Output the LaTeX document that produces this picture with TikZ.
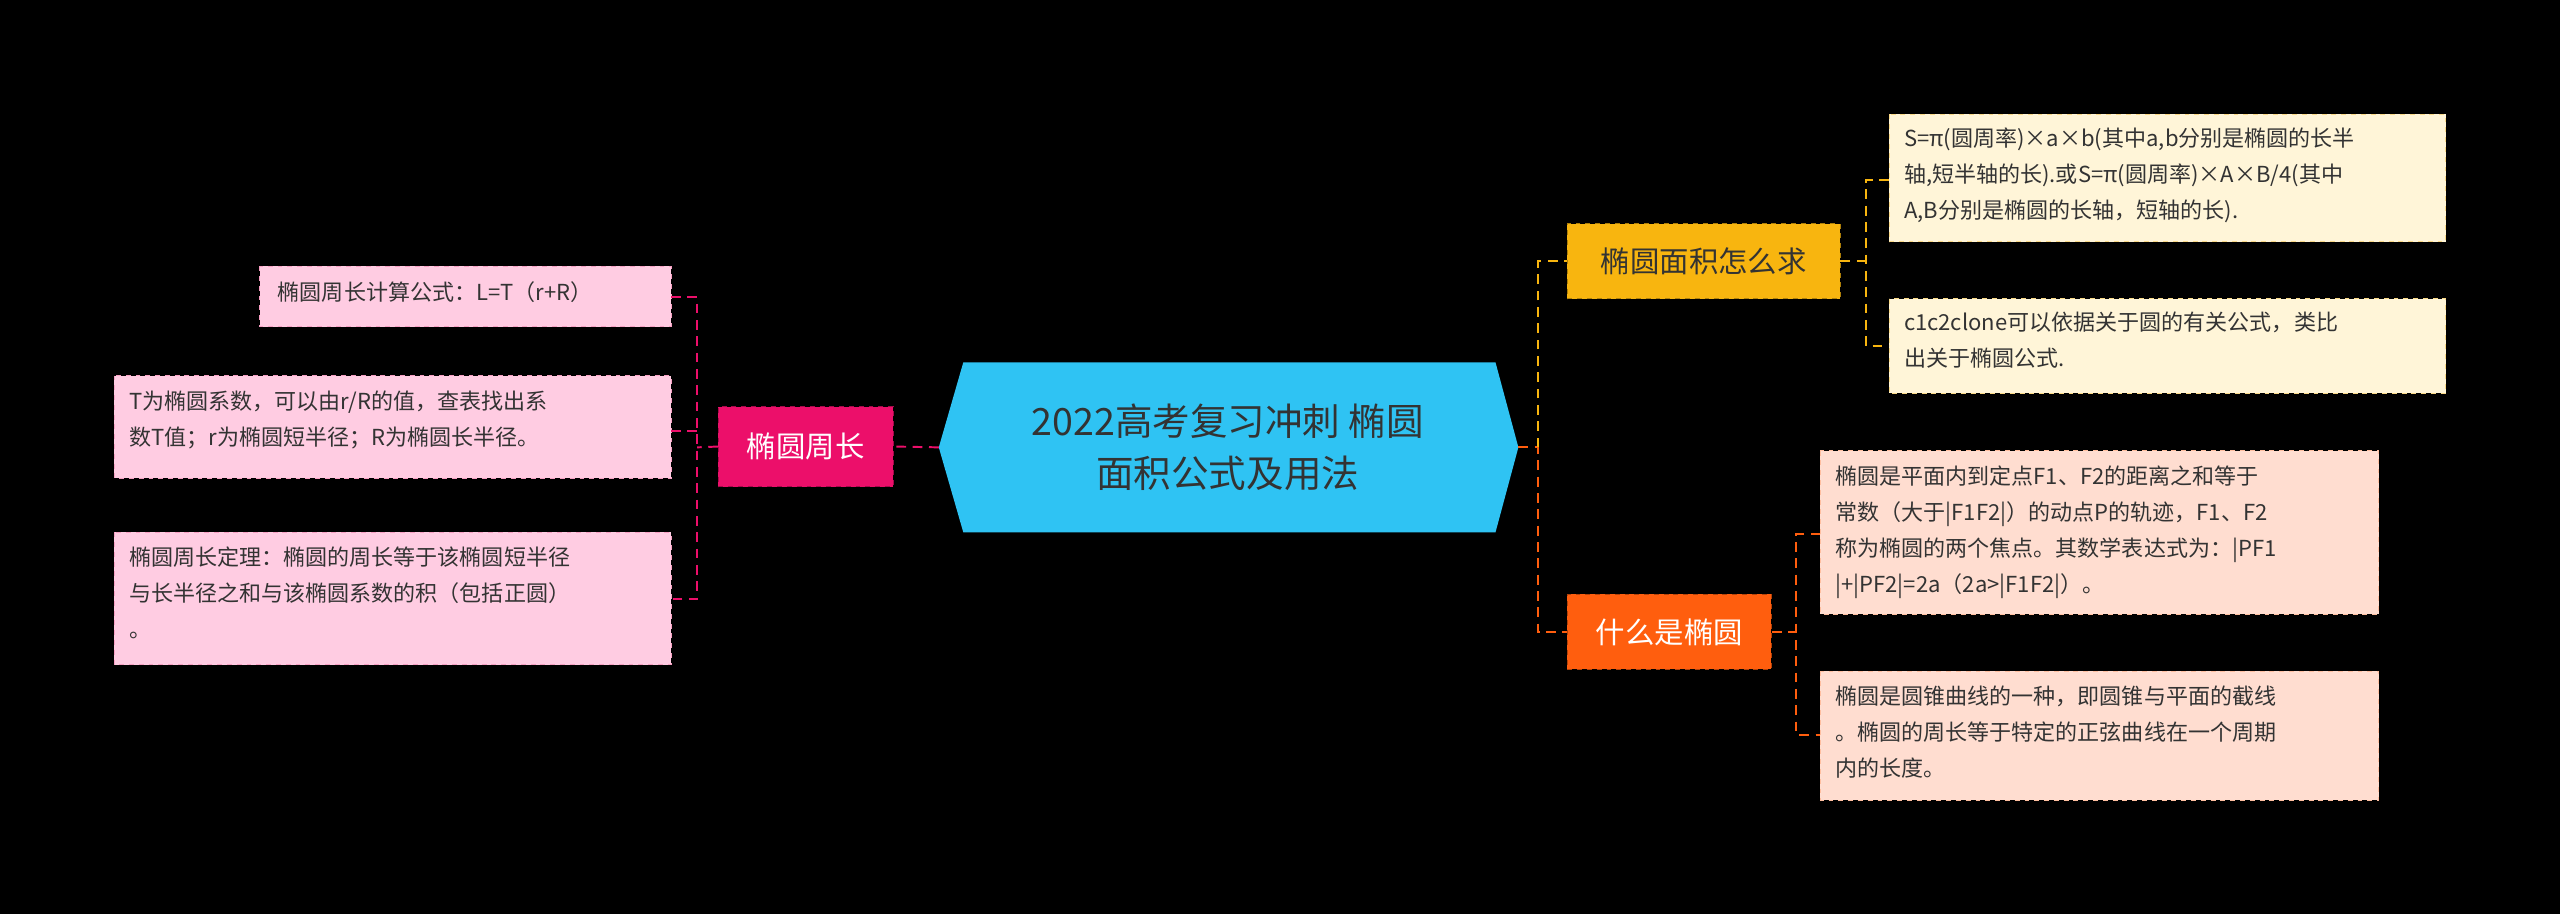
\documentclass[tikz,border=0pt]{standalone}
\usepackage{fontspec}
\setmainfont{Noto Sans CJK SC}
\begin{document}
\begin{tikzpicture}[x=1pt,y=-1pt,
  leaf/.style={draw=#1!70!black, dashed, line width=0.6pt, inner sep=0pt, anchor=north west, align=left, font=\fontsize{13.5}{22}\selectfont, text=black!80},
  lbl/.style={anchor=north west, align=left, font=\fontsize{13.5}{22}\selectfont, text=black!80, inner sep=0pt},
  con/.style={dashed, line width=1.2pt, dash pattern=on 6pt off 4pt}]
\definecolor{cyanc}{HTML}{2FC3F3}
\definecolor{crim}{HTML}{EC0F6A}
\definecolor{gold}{HTML}{F8B50F}
\definecolor{orng}{HTML}{FF5E0E}
\definecolor{pinkl}{HTML}{FFCCE2}
\definecolor{yell}{HTML}{FFF5D8}
\definecolor{peach}{HTML}{FFDDD0}
\fill[black] (0,0) rectangle (1568,560);
\useasboundingbox (0,0) rectangle (1568,560);
% center
\fill[cyanc] (575,274) -- (590,222) -- (916,222) -- (930,274) -- (916,326) -- (590,326) -- cycle;
\node[align=center, font=\fontsize{23}{32}\selectfont, text=black!80] (c) at (752,274) {2022高考复习冲刺 椭圆\\面积公式及用法};
\coordinate (cw) at (575,274);
\coordinate (ce) at (930,274);
% level 1
\node[fill=crim, draw=crim!70!black, dashed, minimum width=107pt, minimum height=49pt, inner sep=0pt, text=white, font=\fontsize{18}{22}\selectfont] (zc) at (493.5,273.5) {椭圆周长};
\node[fill=gold, draw=gold!70!black, dashed, minimum width=167pt, minimum height=46pt, inner sep=0pt, text=black!80, font=\fontsize{18}{22}\selectfont] (mj) at (1043.5,160) {椭圆面积怎么求};
\node[fill=orng, draw=orng!70!black, dashed, minimum width=125pt, minimum height=46pt, inner sep=0pt, text=white, font=\fontsize{18}{22}\selectfont] (sm) at (1022.5,387) {什么是椭圆};
% left leaves
\fill[pinkl] (159,163) rectangle (411,200); \draw[dashed, crim!40] (159,163) rectangle (411,200);
\node[lbl] (l1) at (170,172) {椭圆周长计算公式：L=T（r+R）};
\fill[pinkl] (70,230) rectangle (411,293); \draw[dashed, crim!40] (70,230) rectangle (411,293);
\node[lbl] (l2) at (79,239) {T为椭圆系数，可以由r/R的值，查表找出系\\数T值；r为椭圆短半径；R为椭圆长半径。};
\fill[pinkl] (70,326) rectangle (411,407); \draw[dashed, crim!40] (70,326) rectangle (411,407);
\node[lbl] (l3) at (79,335) {椭圆周长定理：椭圆的周长等于该椭圆短半径\\与长半径之和与该椭圆系数的积（包括正圆）\\。};
% right leaves
\fill[yell] (1157,70) rectangle (1498,148); \draw[dashed, gold!50] (1157,70) rectangle (1498,148);
\node[lbl] (r1) at (1166,78) {S=π(圆周率)×a×b(其中a,b分别是椭圆的长半\\轴,短半轴的长).或S=π(圆周率)×A×B/4(其中\\A,B分别是椭圆的长轴，短轴的长).};
\fill[yell] (1157,183) rectangle (1498,241); \draw[dashed, gold!50] (1157,183) rectangle (1498,241);
\node[lbl] (r2) at (1166,191) {c1c2clone可以依据关于圆的有关公式，类比\\出关于椭圆公式.};
\fill[peach] (1115,276) rectangle (1457,376); \draw[dashed, orng!40] (1115,276) rectangle (1457,376);
\node[lbl] (r3) at (1124,285) {椭圆是平面内到定点F1、F2的距离之和等于\\常数（大于|F1F2|）的动点P的轨迹，F1、F2\\称为椭圆的两个焦点。其数学表达式为：|PF1\\|+|PF2|=2a（2a>|F1F2|）。};
\fill[peach] (1115,411) rectangle (1457,490); \draw[dashed, orng!40] (1115,411) rectangle (1457,490);
\node[lbl] (r4) at (1124,420) {椭圆是圆锥曲线的一种，即圆锥与平面的截线\\。椭圆的周长等于特定的正弦曲线在一个周期\\内的长度。};
% connectors
\draw[con, crim] (cw) -- (zc.east);
\draw[con, crim] (zc.west) -- (427,274);
\draw[con, crim] (411,182) -- (427,182) -- (427,367) -- (411,367);
\draw[con, crim] (411,264) -- (427,264);
\draw[con, orng] (ce) -- (942,274) -- (942,387) -- (sm.west);
\draw[con, gold] (942,274) -- (942,160) -- (mj.west);
\draw[con, gold] (mj.east) -- (1143,160);
\draw[con, gold] (1157,110) -- (1143,110) -- (1143,212) -- (1157,212);
\draw[con, orng] (sm.east) -- (1100,387);
\draw[con, orng] (1115,327) -- (1100,327) -- (1100,450) -- (1115,450);
\end{tikzpicture}
\end{document}
